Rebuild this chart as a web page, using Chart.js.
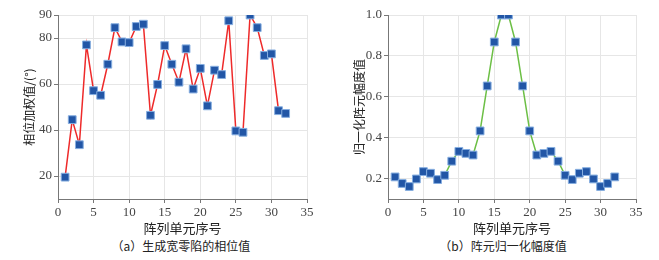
<!DOCTYPE html>
<html>
<head>
<meta charset="utf-8">
<script src="https://cdn.jsdelivr.net/npm/chart.js@4"></script>
<style>
  body { margin: 0; background: #fff; }
  #wrap { position: relative; width: 659px; height: 260px; }
  .box { position: absolute; top: 0; }
  .cap { position: absolute; top: 237px; font: 12px "Noto Sans CJK SC", sans-serif; color: #222; white-space: nowrap; transform: translateX(-50%); }
</style>
</head>
<body>
<div id="wrap">
  <div class="box" style="left:0;width:330px;height:236px"><canvas id="phaseChart"></canvas></div>
  <div class="box" style="left:330px;width:329px;height:236px"><canvas id="ampChart"></canvas></div>
  <div class="cap" style="left:181px">（a）生成宽零陷的相位值</div>
  <div class="cap" style="left:503px">（b）阵元归一化幅度值</div>
</div>
<script>
// array element index 1..32
const elems = [1,2,3,4,5,6,7,8,9,10,11,12,13,14,15,16,17,18,19,20,21,22,23,24,25,26,27,28,29,30,31,32];

// phase weights (degrees)
const phase = [19.5, 44.5, 33.6, 77, 57.1, 55.1, 68.6, 84.5, 78.3, 78, 85, 86, 46.4, 59.8, 76.7, 68.6,
               60.8, 75.3, 57.8, 66.8, 50.5, 66, 64.1, 87.5, 39.6, 39, 90, 84.5, 72.4, 73.1, 48.4, 47.2];

// normalized amplitude
const amp = [0.208, 0.176, 0.161, 0.198, 0.234, 0.226, 0.195, 0.216, 0.285, 0.333, 0.323, 0.315, 0.433, 0.653, 0.868, 1.0,
             1.0, 0.868, 0.653, 0.433, 0.315, 0.323, 0.333, 0.285, 0.216, 0.195, 0.226, 0.234, 0.198, 0.161, 0.176, 0.208];

const phaseTicks = [20, 40, 60, 80, 90];
const ampTicks = [0.2, 0.4, 0.6, 0.8, 1.0];
const xTicks = [0, 5, 10, 15, 20, 25, 30, 35];

const FONT = "'Liberation Serif', 'Noto Sans CJK SC', serif";
const CJK = "'Noto Sans CJK SC', sans-serif";

function makeChart(id, values, lineColor, yMin, yMax, yTicks, yTitle, fmt) {
    const ctx = document.getElementById(id);
    return new Chart(ctx, {
        type: 'line',
        data: {
            datasets: [{
                data: elems.map((e, i) => ({ x: e, y: values[i] })),
                borderColor: lineColor,
                borderWidth: 1.5,
                tension: 0,
                pointStyle: 'rect',
                pointRadius: 5.5,
                pointBorderWidth: 1,
                pointBackgroundColor: '#2256a6',
                pointBorderColor: '#86aee0'
            }]
        },
        options: {
            responsive: true,
            maintainAspectRatio: false,
            animation: false,
            layout: { padding: { top: 15, right: 23, bottom: 0, left: 0 } },
            plugins: { legend: { display: false }, tooltip: { enabled: false } },
            scales: {
                x: {
                    type: 'linear', min: 0, max: 35,
                    afterBuildTicks: s => { s.ticks = xTicks.map(v => ({ value: v })); },
                    afterFit: s => { s.height = 37; },
                    grid: { color: '#e6e6e6', tickColor: '#777', tickLength: 4 },
                    border: { color: '#777' },
                    ticks: { font: { family: FONT, size: 13 }, color: '#444', padding: 2 },
                    title: { display: true, text: '阵列单元序号', font: { family: CJK, size: 13 }, color: '#222', padding: 0 }
                },
                y: {
                    type: 'linear', min: yMin, max: yMax,
                    afterBuildTicks: s => { s.ticks = yTicks.map(v => ({ value: v })); },
                    afterFit: s => { s.width = 58; },
                    grid: { color: '#e6e6e6', tickColor: '#777', tickLength: 4 },
                    border: { color: '#777' },
                    ticks: { font: { family: FONT, size: 13 }, color: '#444', padding: 2, callback: fmt },
                    title: { display: true, text: yTitle, font: { family: CJK, size: 12 }, color: '#222', padding: { top: 22, bottom: 0 } }
                }
            }
        }
    });
}

makeChart('phaseChart', phase, '#ee2a2a', 10, 90, phaseTicks, '相位加权值/(°)', v => v);
makeChart('ampChart', amp, '#6cbf45', 0.1, 1.0, ampTicks, '归一化阵元幅度值', v => v.toFixed(1));
</script>
</body>
</html>
